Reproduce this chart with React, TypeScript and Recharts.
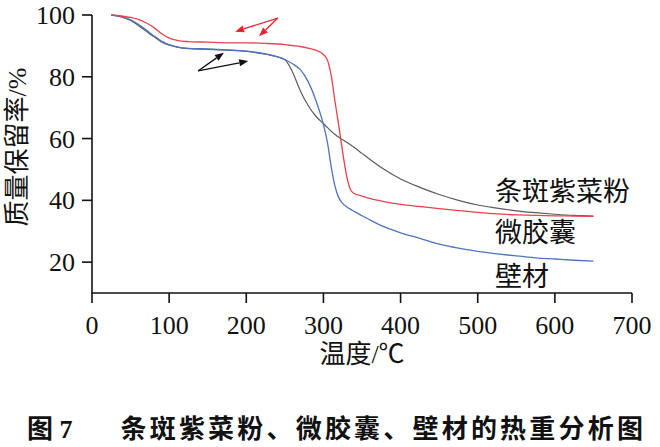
import { LineChart, Line, XAxis, YAxis, ReferenceLine } from "recharts"

// temperature (°C) shared by the three TG curves
const TEMPS = [
  25, 40, 50, 60, 70, 80, 90, 100, 110, 125, 150, 175, 200, 225, 250, 260, 270, 280, 290, 300,
  305, 310, 315, 320, 325, 330, 335, 340, 350, 360, 380, 400, 425, 450, 475, 500, 525, 550, 575,
  600, 625, 650,
]

// mass retention (%)
const RED = [
  100, 99.6, 99.2, 98.6, 97.5, 96, 94, 92.5, 91.8, 91.4, 91.2, 91.0, 91.0, 90.8, 90.4, 90.1, 89.8,
  89.3, 88.6, 87.2, 85.5, 80.5, 72, 64, 55.5, 48, 43.5, 42.2, 41.4, 40.6, 39.5, 38.7, 38, 37.3,
  36.7, 36.1, 35.6, 35.3, 35.1, 35, 34.9, 34.8,
]
const GRAY = [
  100, 99.2, 98.2, 96.6, 94.8, 93, 91.3, 90.2, 89.6, 89.1, 88.9, 88.6, 88.2, 87.3, 85.5, 81.5, 75.5,
  70.8, 67.3, 64.8, 63.6, 62.4, 61.3, 60.4, 59.6, 58.8, 58, 57.1, 55.2, 53.3, 49.8, 46.9, 44.2,
  41.9, 40, 38.5, 37.5, 36.6, 36, 35.5, 35.1, 34.9,
]
const BLUE = [
  100, 99.3, 98.4, 97, 95.2, 93.3, 91.6, 90.4, 89.7, 89.2, 89, 88.7, 88.3, 87.4, 85.6, 84.2, 82.3,
  78.5, 72.5, 64.5, 59, 51, 44.5, 40.8, 39, 37.9, 37.1, 36.4, 35, 33.7, 31.3, 29.5, 27.7, 25.8,
  24.5, 23.5, 22.7, 22, 21.4, 21, 20.6, 20.3,
]

const X_TICKS = [0, 100, 200, 300, 400, 500, 600, 700]
const Y_TICKS = [20, 40, 60, 80, 100]

const SERIES_NAMES = ["条斑紫菜粉", "微胶囊", "壁材"]

// annotation arrows: [start, tip] in data units
const RED_ARROWS = [
  [{ x: 241, y: 99.0 }, { x: 185.5, y: 94.6 }],
  [{ x: 241, y: 99.0 }, { x: 216.5, y: 93.1 }],
]
const BLACK_ARROWS = [
  [{ x: 137.5, y: 81.9 }, { x: 171, y: 87.8 }],
  [{ x: 137.5, y: 81.9 }, { x: 202.5, y: 85.1 }],
]

const rows = TEMPS.map((t, i) => ({ t, red: RED[i], gray: GRAY[i], blue: BLUE[i] }))

const NUM_FONT = "'Liberation Serif', 'Times New Roman', Tinos, 'DejaVu Serif', serif"
const FONT = "'Liberation Serif', 'Noto Sans CJK SC', serif"

function Arrow(props: any) {
  const { x1, y1, x2, y2, color } = props
  const dx = x2 - x1
  const dy = y2 - y1
  const len = Math.sqrt(dx * dx + dy * dy) || 1
  const ux = dx / len
  const uy = dy / len
  const hl = 9
  const hw = 3.5
  const bx = x2 - ux * hl
  const by = y2 - uy * hl
  const pts = `${x2},${y2} ${bx - uy * hw},${by + ux * hw} ${bx + uy * hw},${by - ux * hw}`
  return (
    <g>
      <line x1={x1} y1={y1} x2={bx} y2={by} stroke={color} strokeWidth={1.3} />
      <polygon points={pts} fill={color} />
    </g>
  )
}

function XTick({ x, y, payload }: any) {
  return (
    <text x={x} y={y + 25} textAnchor="middle" fill="#111" style={{ fontFamily: NUM_FONT, fontSize: 26 }}>
      {payload.value}
    </text>
  )
}

function YTick({ x, y, payload }: any) {
  return (
    <text x={x} y={y + 9} textAnchor="end" fill="#111" style={{ fontFamily: NUM_FONT, fontSize: 26 }}>
      {payload.value}
    </text>
  )
}

const labelStyle: any = {
  position: "absolute",
  left: 495,
  fontSize: 27,
  lineHeight: "30px",
  color: "#111",
  whiteSpace: "nowrap",
}

export default function App() {
  return (
    <div
      style={{
        position: "absolute",
        left: 0,
        top: 0,
        width: 660,
        height: 447,
        background: "#fff",
        fontFamily: FONT,
      }}
    >
      <LineChart
        width={660}
        height={447}
        data={rows}
        margin={{ top: 15, right: 28, bottom: 114, left: 12 }}
      >
        <XAxis
          dataKey="t"
          type="number"
          domain={[0, 700]}
          ticks={X_TICKS}
          interval={0}
          height={40}
          tickSize={10}
          tickMargin={6}
          stroke="#111"
          strokeWidth={1.6}
          tick={<XTick />}
        />
        <YAxis
          type="number"
          domain={[10, 100]}
          ticks={Y_TICKS}
          interval={0}
          width={80}
          tickSize={10}
          tickMargin={7}
          stroke="#111"
          strokeWidth={1.6}
          tick={<YTick />}
        />
        <Line
          dataKey="gray"
          type="monotone"
          stroke="#5b5b5b"
          strokeWidth={1.2}
          dot={false}
          isAnimationActive={false}
        />
        <Line
          dataKey="blue"
          type="monotone"
          stroke="#4e73bf"
          strokeWidth={1.3}
          dot={false}
          isAnimationActive={false}
        />
        <Line
          dataKey="red"
          type="monotone"
          stroke="#e6434d"
          strokeWidth={1.3}
          dot={false}
          isAnimationActive={false}
        />
        {RED_ARROWS.map((seg, i) => (
          <ReferenceLine
            key={"r" + i}
            segment={seg}
            ifOverflow="visible"
            shape={(p: any) => <Arrow {...p} color="#e8252f" />}
          />
        ))}
        {BLACK_ARROWS.map((seg, i) => (
          <ReferenceLine
            key={"b" + i}
            segment={seg}
            ifOverflow="visible"
            shape={(p: any) => <Arrow {...p} color="#111" />}
          />
        ))}
      </LineChart>

      {/* curve names at the right end */}
      <div style={{ ...labelStyle, top: 177 }}>{SERIES_NAMES[0]}</div>
      <div style={{ ...labelStyle, top: 218 }}>{SERIES_NAMES[1]}</div>
      <div style={{ ...labelStyle, top: 262 }}>{SERIES_NAMES[2]}</div>

      {/* axis titles */}
      <div
        style={{
          position: "absolute",
          left: 18,
          top: 147,
          transform: "translate(-50%, -50%) rotate(-90deg)",
          whiteSpace: "nowrap",
          fontSize: 26,
          lineHeight: "30px",
          color: "#111",
        }}
      >
        质量保留率/%
      </div>
      <div
        style={{
          position: "absolute",
          left: 362,
          top: 340,
          transform: "translateX(-50%)",
          whiteSpace: "nowrap",
          fontSize: 26,
          lineHeight: "30px",
          color: "#111",
        }}
      >
        温度/℃
      </div>

      {/* figure caption */}
      <div
        style={{
          position: "absolute",
          left: 27,
          top: 415,
          whiteSpace: "nowrap",
          fontSize: 26,
          lineHeight: "30px",
          fontWeight: "bold",
          color: "#111",
        }}
      >
        <span>图 7</span>
        <span style={{ display: "inline-block", width: 48 }} />
        <span style={{ letterSpacing: 3.2 }}>条斑紫菜粉、微胶囊、壁材的热重分析图</span>
      </div>
    </div>
  )
}
